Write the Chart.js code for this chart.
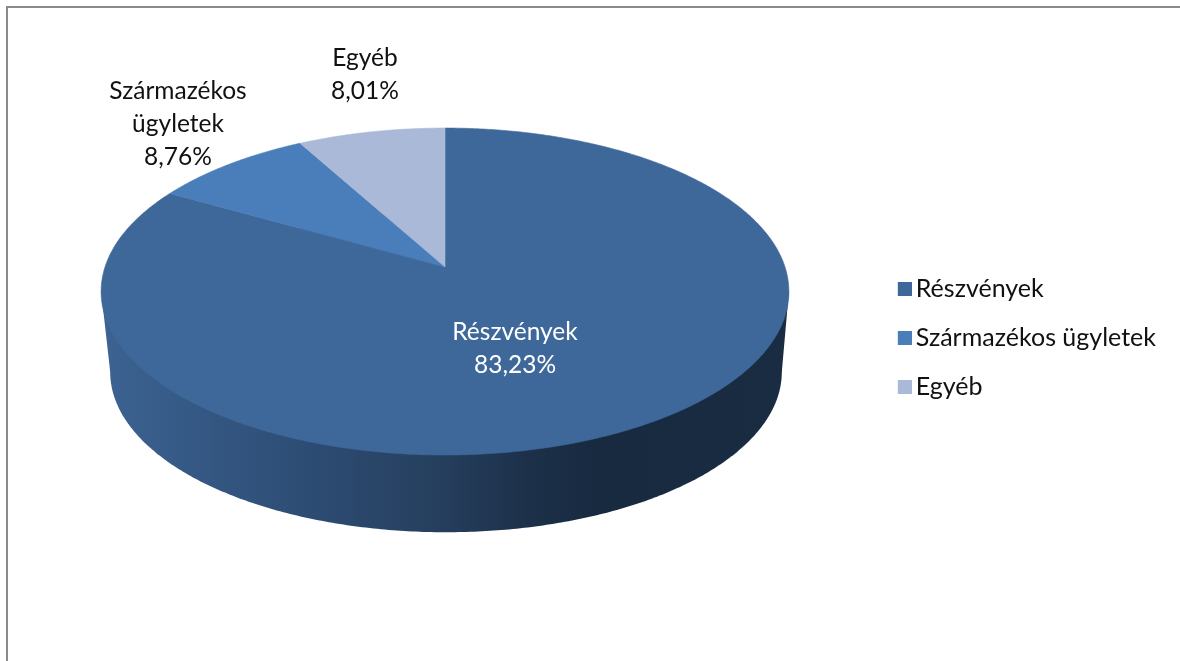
<!DOCTYPE html>
<html><head><meta charset="utf-8">
<script src="https://cdn.jsdelivr.net/npm/chart.js@4/dist/chart.umd.js"></script>
<style>html,body{margin:0;padding:0;background:#fff;overflow:hidden}
#wrap{position:relative;width:1180px;height:661px}
#frame{position:absolute;left:6px;top:6px;right:0;bottom:0;border-top:2px solid #8a8a8a;border-left:2px solid #8a8a8a}
canvas{position:absolute;left:0;top:0}</style>
</head><body><div id="wrap"><div id="frame"></div><canvas id="c" width="1180" height="661"></canvas></div>
<script>
const categories = ['Részvények', 'Származékos ügyletek', 'Egyéb'];
const shares = [83.23, 8.76, 8.01];
const colors = ['#3f689a', '#4a7ebb', '#aab9d8'];
const labelLines = [['Részvények'], ['Származékos', 'ügyletek'], ['Egyéb']];

const FONT = 'Lato, "Open Sans", sans-serif';
const top3d = {x0: 445, y0: 267, a: 340, b: 159.8, k: -0.15};
const base3d = {x0: 446, y0: 348, a: 332, b: 156.6, k: -0.15};
const labelPlace = [{x: 515, y: 332, color: '#ffffff'}, {x: 178, y: 91, color: '#111111'}, {x: 365, y: 58, color: '#111111'}];

function project(p, theta) {
  const u = Math.cos(theta), v = Math.sin(theta), d = 1 + p.k * v;
  return [p.x0 + p.a * u / d, p.y0 + p.b * v / d];
}
function traceArc(ctx, p, a0, a1, first) {
  const n = Math.max(2, Math.ceil(Math.abs(a1 - a0) / 0.01));
  for (let i = 0; i <= n; i++) {
    const q = project(p, a0 + (a1 - a0) * i / n);
    if (i === 0 && first) ctx.moveTo(q[0], q[1]); else ctx.lineTo(q[0], q[1]);
  }
}
function extreme(p, sign) {
  let best = 0, bx = -Infinity;
  for (let t = 0; t < Math.PI * 2; t += 0.002) {
    const x = sign * project(p, t)[0];
    if (x > bx) { bx = x; best = t; }
  }
  return best;
}
const pie3d = {
  id: 'pie3d',
  beforeDatasetsDraw(chart) {
    const ctx = chart.ctx, arcs = chart.getDatasetMeta(0).data;
    ctx.save();
    const g = ctx.createLinearGradient(101, 0, 789, 0);
    g.addColorStop(0, '#3c6392');
    g.addColorStop(0.25, '#2f5079');
    g.addColorStop(0.5, '#253e5d');
    g.addColorStop(0.62, '#1c3049');
    g.addColorStop(0.72, '#172a40');
    g.addColorStop(1, '#192c42');
    ctx.fillStyle = g;
    const tl = project(top3d, extreme(top3d, -1)), tr = project(top3d, extreme(top3d, 1));
    const bl = project(base3d, extreme(base3d, -1)), br = project(base3d, extreme(base3d, 1));
    ctx.beginPath();
    traceArc(ctx, base3d, 0, Math.PI * 2, true);
    ctx.closePath();
    ctx.fill();
    ctx.beginPath();
    ctx.moveTo(tl[0], tl[1]); ctx.lineTo(bl[0], bl[1]); ctx.lineTo(br[0], br[1]); ctx.lineTo(tr[0], tr[1]);
    ctx.closePath();
    ctx.fill();
    ctx.lineWidth = 0.6;
    ctx.lineJoin = 'round';
    arcs.forEach((arc, i) => {
      ctx.beginPath();
      ctx.moveTo(top3d.x0, top3d.y0);
      traceArc(ctx, top3d, arc.startAngle, arc.endAngle, false);
      ctx.closePath();
      ctx.fillStyle = arc.options.backgroundColor;
      ctx.strokeStyle = arc.options.backgroundColor;
      ctx.fill();
      ctx.stroke();
    });
    ctx.textAlign = 'center';
    ctx.textBaseline = 'middle';
    ctx.font = '24.5px ' + FONT;
    labelLines.forEach((lines, i) => {
      const place = labelPlace[i];
      ctx.fillStyle = place.color;
      const all = lines.concat(shares[i].toFixed(2).replace('.', ',') + '%');
      all.forEach((t, j) => ctx.fillText(t, place.x, place.y + j * 33));
    });
    ctx.restore();
    return false;
  }
};
function swatch(color) {
  const c = document.createElement('canvas');
  c.width = 18; c.height = 14;
  const x = c.getContext('2d');
  x.fillStyle = color; x.fillRect(4, 0, 14, 14);
  return c;
}
new Chart(document.getElementById('c'), {
  type: 'pie',
  data: {labels: categories, datasets: [{data: shares, backgroundColor: colors, borderWidth: 0}]},
  options: {
    responsive: false, animation: false, rotation: 0,
    layout: {padding: {top: 15, right: 14}},
    plugins: {
      tooltip: {enabled: false},
      legend: {
        position: 'right',
        labels: {
          color: '#111111', font: {family: FONT, size: 25}, padding: 24,
          boxWidth: 1, boxHeight: 14, usePointStyle: true, pointStyleWidth: 1,
          generateLabels(chart) {
            return Chart.overrides.pie.plugins.legend.labels.generateLabels(chart).map((it, i) => Object.assign(it, {pointStyle: swatch(colors[i])}));
          }
        }
      }
    }
  },
  plugins: [pie3d]
});
</script></body></html>
